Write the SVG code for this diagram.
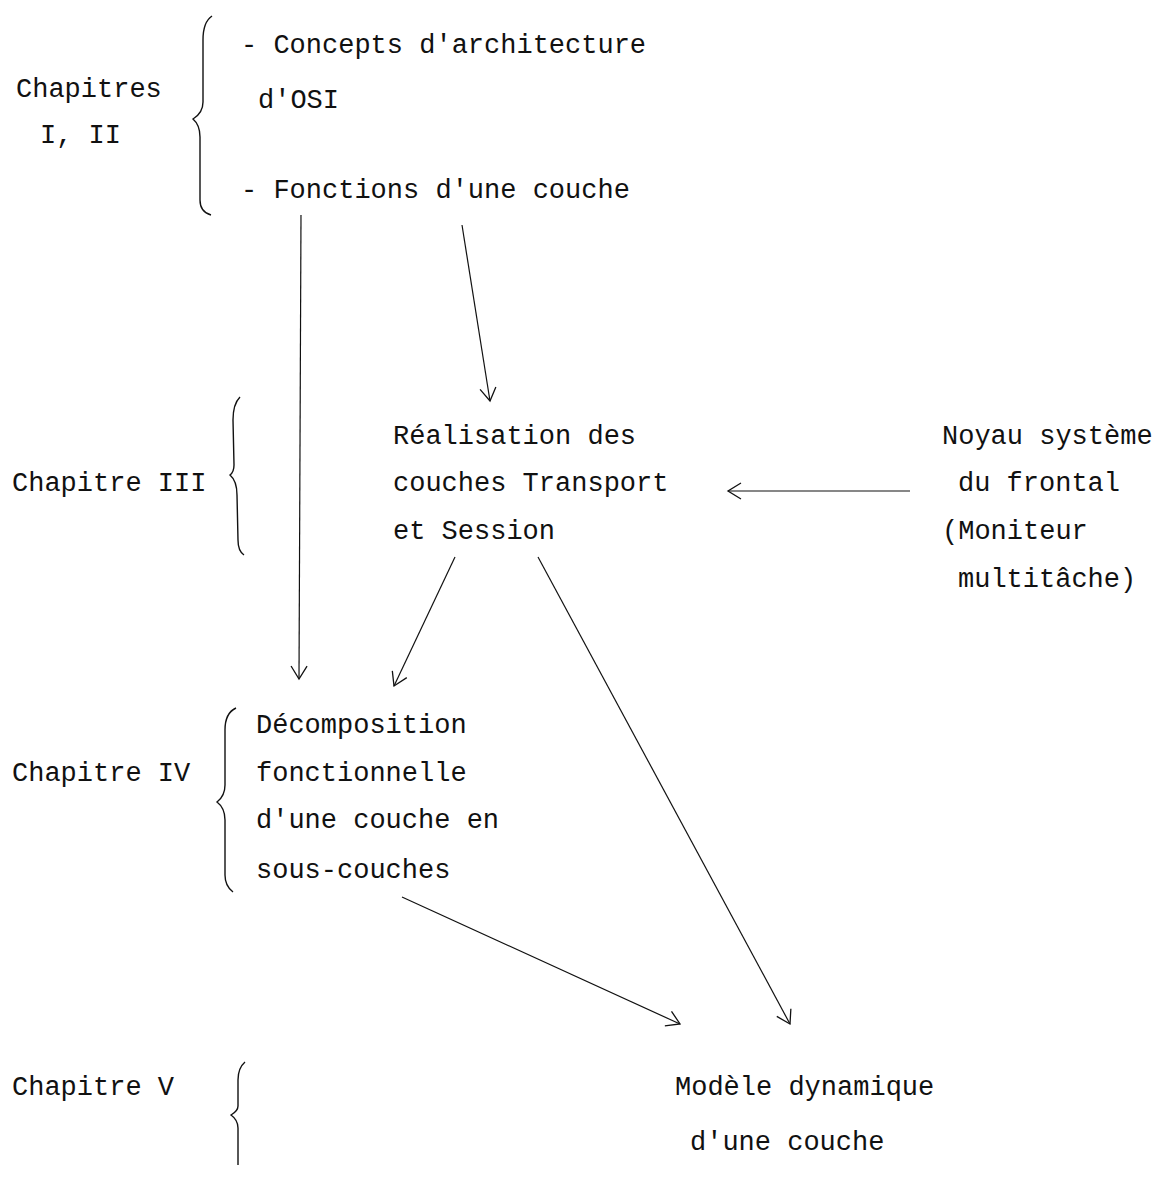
<svg xmlns="http://www.w3.org/2000/svg" width="1161" height="1178" viewBox="0 0 1161 1178">
<defs>
<style>
text{font-family:"Liberation Mono","Courier New",monospace;font-size:27px;fill:#111}
.br{fill:none;stroke:#111;stroke-width:1.4}
.cn{fill:none;stroke:#111;stroke-width:1.2}
</style>
<marker id="ah" markerUnits="userSpaceOnUse" markerWidth="30" markerHeight="30" refX="15" refY="15" orient="auto" overflow="visible">
<path d="M2,7 L15,15 L2,23" fill="none" stroke="#111" stroke-width="1.3"/>
</marker>
</defs>
<rect width="1161" height="1178" fill="#fff"/>
<g id="ch12">
<text x="16" y="97">Chapitres</text>
<text x="40" y="143">I, II</text>
<path class="br" d="M212,16 Q203,22 203,40 L203,102 Q203,113 193,119 Q200,125 200,137 L200,200 Q200,212 211,215"/>
</g>
<g id="osi">
<text x="241" y="53">- Concepts d'architecture</text>
<text x="258" y="108">d'OSI</text>
<text x="241" y="198">- Fonctions d'une couche</text>
</g>
<g id="ch3">
<text x="12" y="491">Chapitre III</text>
<path class="br" d="M240,397 Q233,404 233,420 L234,465 Q234,472 230,475 Q237,481 237,495 L238,540 Q238,551 244,555"/>
</g>
<g id="realisation">
<text x="393" y="444">Réalisation des</text>
<text x="393" y="491">couches Transport</text>
<text x="393" y="539">et Session</text>
</g>
<g id="noyau">
<text x="942" y="444">Noyau système</text>
<text x="958" y="491">du frontal</text>
<text x="942" y="539">(Moniteur</text>
<text x="958" y="587">multitâche)</text>
</g>
<g id="ch4">
<text x="12" y="781">Chapitre IV</text>
<path class="br" d="M236,708 Q225,713 225,730 L225,785 Q225,796 217,802 Q225,808 225,820 L225,875 Q225,886 233,892"/>
</g>
<g id="decomposition">
<text x="256" y="733">Décomposition</text>
<text x="256" y="781">fonctionnelle</text>
<text x="256" y="828">d'une couche en</text>
<text x="256" y="878">sous-couches</text>
</g>
<g id="ch5">
<text x="12" y="1095">Chapitre V</text>
<path class="br" d="M245,1062 Q238,1068 238,1080 L238,1106 Q238,1111 231,1115 Q238,1120 238,1128 L238,1165"/>
</g>
<g id="modele">
<text x="675" y="1095">Modèle dynamique</text>
<text x="690" y="1150">d'une couche</text>
</g>
<g id="connectors">
<line class="cn" x1="301" y1="215" x2="299" y2="679" marker-end="url(#ah)"/>
<line class="cn" x1="462" y1="225" x2="490" y2="401" marker-end="url(#ah)"/>
<line class="cn" x1="910" y1="491" x2="728" y2="491" marker-end="url(#ah)"/>
<line class="cn" x1="455" y1="557" x2="394" y2="686" marker-end="url(#ah)"/>
<line class="cn" x1="538" y1="557" x2="790" y2="1024" marker-end="url(#ah)"/>
<line class="cn" x1="402" y1="897" x2="680" y2="1024" marker-end="url(#ah)"/>
</g>
</svg>
